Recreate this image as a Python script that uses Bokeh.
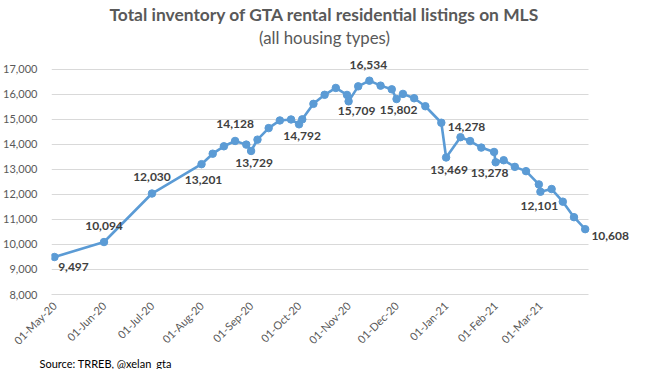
import math
import datetime as dtm
from bokeh.plotting import figure
from bokeh.models import (ColumnDataSource, LabelSet, Label, FixedTicker, Title, Grid,
                          DatetimeTickFormatter, NumeralTickFormatter, Range1d)
from bokeh.core.properties import value
from bokeh.embed import file_html
from bokeh.resources import INLINE

# ---------------- data ----------------
dates = ["2020-05-01", "2020-06-01", "2020-07-01", "2020-08-01", "2020-08-08",
         "2020-08-15", "2020-08-22", "2020-08-29", "2020-09-01", "2020-09-05",
         "2020-09-12", "2020-09-19", "2020-09-26", "2020-10-01", "2020-10-03",
         "2020-10-10", "2020-10-17", "2020-10-24", "2020-10-31", "2020-11-01",
         "2020-11-07", "2020-11-14", "2020-11-21", "2020-11-28", "2020-12-01",
         "2020-12-05", "2020-12-12", "2020-12-19", "2020-12-29", "2021-01-01",
         "2021-01-10", "2021-01-16", "2021-01-23", "2021-01-31", "2021-02-01",
         "2021-02-06", "2021-02-13", "2021-02-20", "2021-02-28", "2021-03-01",
         "2021-03-08", "2021-03-15", "2021-03-22", "2021-03-29"]
inventory = [9497, 10094, 12030, 13201, 13620,
             13915, 14128, 13982, 13729, 14181,
             14641, 14947, 14986, 14792, 14990,
             15609, 15970, 16244, 15966, 15709,
             16308, 16534, 16336, 16189, 15802,
             16006, 15832, 15514, 14855, 13469,
             14278, 14125, 13863, 13689, 13278,
             13359, 13094, 12923, 12395, 12101,
             12209, 11705, 11086, 10608]
labelled_idx = [0, 1, 2, 3, 6, 8, 13, 19, 21, 24, 29, 30, 34, 39, 43]
month_ticks = ["2020-05-01", "2020-06-01", "2020-07-01", "2020-08-01",
               "2020-09-01", "2020-10-01", "2020-11-01", "2020-12-01",
               "2021-01-01", "2021-02-01", "2021-03-01"]
y_ticks = [8000, 9000, 10000, 11000, 12000, 13000, 14000, 15000, 16000, 17000]

title_text = "Total inventory of GTA rental residential listings on MLS"
subtitle_text = "(all housing types)"
source_text = "Source: TRREB, @xelan_gta"

# ---------------- layout / style ----------------
label_dx = [19, 0, 0, 2, 0, 3, 3, 8, -1, 2, 3, 6, -6, -1, 25]
label_dy = [-10, 16, 17, -16, 17, -12, -12, -10, 16, -11, -13, 10, -11, -14, -7]

W, H = 629, 369
FL = 42            # frame left (px from figure left)
FB = 294           # frame bottom = 8,000 line (px from figure top)
Y_TOP_PX = 68.5    # where 17,000 sits (px from figure top)
X_FIRST_PX = 45    # first data point (px)
X_LAST_PX = 584    # last data point (px)
PAD_PX = 3
LINE_C = "#5b9bd5"
GRID_C = "#d9d9d9"
AXIS_TXT = "#595959"
FONT = "Lato"


def to_dt(s):
    return dtm.datetime.strptime(s, "%Y-%m-%d")


def to_ms(d):
    return (d - dtm.datetime(1970, 1, 1)).total_seconds() * 1000.0


xs = [to_dt(s) for s in dates]
src = ColumnDataSource(dict(date=xs, value=inventory))
lab = ColumnDataSource(dict(
    date=[xs[i] for i in labelled_idx],
    value=[inventory[i] for i in labelled_idx],
    text=[f"{inventory[i]:,}" for i in labelled_idx],
    dx=label_dx, dy=label_dy))

# x scale: data span mapped to X_FIRST_PX..X_LAST_PX, frame runs to figure right edge
span_days = (xs[-1] - xs[0]).days
px_per_day = (X_LAST_PX - X_FIRST_PX) / span_days
x_start = xs[0] - dtm.timedelta(days=(X_FIRST_PX - FL) / px_per_day)
x_end = x_start + dtm.timedelta(days=(W - FL) / px_per_day)
x_plot_end = xs[-1] + dtm.timedelta(days=PAD_PX / px_per_day)

# y scale: 8,000 at frame bottom, 17,000 at Y_TOP_PX, frame reaches figure top
px_per_unit = (FB - Y_TOP_PX) / (y_ticks[-1] - y_ticks[0])
y_end = y_ticks[0] + FB / px_per_unit

p = figure(width=W, height=H, x_axis_type="datetime",
           x_range=Range1d(x_start, x_end), y_range=Range1d(y_ticks[0], y_end),
           output_backend="svg", toolbar_location=None, title=None,
           min_border_left=FL, min_border_right=0,
           min_border_top=0, min_border_bottom=H - FB)
p.outline_line_color = None
p.background_fill_color = "white"
p.border_fill_color = "white"

# axes
xa = p.xaxis[0]
xa.ticker = FixedTicker(ticks=[to_ms(to_dt(s)) for s in month_ticks])
xa.formatter = DatetimeTickFormatter(days="%d-%b-%y", months="%d-%b-%y",
                                     years="%d-%b-%y")
xa.major_label_orientation = math.pi / 4
xa.axis_line_color = GRID_C
xa.bounds = (x_start, x_plot_end)
xa.major_tick_line_color = None
xa.minor_tick_line_color = None
xa.major_label_text_font = FONT
xa.major_label_text_font_size = "11px"
xa.major_label_text_color = AXIS_TXT
xa.major_label_standoff = 3

ya = p.yaxis[0]
ya.ticker = FixedTicker(ticks=y_ticks)
ya.formatter = NumeralTickFormatter(format="0,0")
ya.axis_line_color = None
ya.major_tick_line_color = None
ya.minor_tick_line_color = None
ya.major_label_text_font = FONT
ya.major_label_text_font_size = "11px"
ya.major_label_text_color = AXIS_TXT
ya.major_label_standoff = 8

p.xgrid.grid_line_color = None
yg = p.ygrid[0]
yg.grid_line_color = GRID_C
yg.grid_line_width = 1
if "cross_bounds" in Grid.properties():
    yg.cross_bounds = (to_ms(x_start), to_ms(x_plot_end))

# series
p.line("date", "value", source=src, line_color=LINE_C, line_width=2.6)
p.scatter("date", "value", source=src, size=7.5, fill_color=LINE_C,
          line_color=LINE_C)

p.add_layout(LabelSet(x="date", y="value", text="text", source=lab,
                      x_offset="dx", y_offset="dy",
                      text_align="center", text_baseline="middle",
                      text_font=value(FONT), text_font_style="bold",
                      text_font_size="12px", text_color="#404040"))

# title / subtitle inside the (tall) frame, positioned in screen px
TITLE_CX = 315 - FL
p.add_layout(Label(x=TITLE_CX, y=FB - 14, x_units="screen", y_units="screen",
                   text=title_text, text_align="center", text_baseline="middle",
                   text_font=FONT, text_font_style="bold", text_font_size="17.4px",
                   text_color="#595959"))
p.add_layout(Label(x=TITLE_CX, y=FB - 37, x_units="screen", y_units="screen",
                   text=subtitle_text, text_align="center", text_baseline="middle",
                   text_font=FONT, text_font_size="16.8px", text_color="#595959"))

# source note below the axis
p.add_layout(Title(text=source_text, align="left", offset=-12, standoff=0,
                   text_font=FONT, text_font_size="11px", text_font_style="normal",
                   text_color="#000000"), "below")

open("out.html", "w").write(file_html(p, INLINE))
